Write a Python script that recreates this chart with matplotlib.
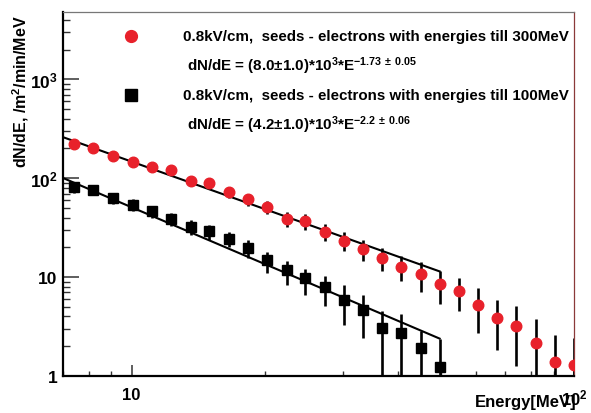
import numpy as np
import matplotlib
matplotlib.use("Agg")
import matplotlib.pyplot as plt
from matplotlib.ticker import LogLocator, NullFormatter, FixedLocator

plt.rcParams['font.family'] = ['Liberation Sans', 'DejaVu Sans']
plt.rcParams['font.weight'] = 'bold'
plt.rcParams['mathtext.default'] = 'regular'

# ---------------- data ----------------
energy = [7.4, 8.2, 9.1, 10.1, 11.1, 12.3, 13.6, 15.0, 16.6, 18.3,
          20.2, 22.4, 24.7, 27.3, 30.2, 33.3, 36.8, 40.7, 45.0, 49.7,
          54.9, 60.7, 67.1, 74.1, 81.9, 90.5, 100.0]

red_y = [223, 201, 169, 147, 129, 121, 94, 90, 72, 61,
         51, 39, 37, 28.6, 23.3, 19.2, 15.5, 12.8, 10.7, 8.5,
         7.2, 5.2, 3.85, 3.17, 2.16, 1.39, 1.28]
red_err = [15, 14, 13, 12, 11, 11, 10, 9.5, 8.5, 8,
           8, 7, 6.7, 5.5, 5.1, 4.5, 4.1, 3.6, 3.6, 3.1,
           2.7, 2.5, 2.0, 1.9, 1.6, 1.2, 1.15]

black_y = [81, 76.7, 63, 54, 46.3, 38.7, 31.9, 29.0, 24.3, 19.5,
           14.9, 11.8, 9.8, 8.0, 5.85, 4.66, 3.09, 2.75, 1.90, 1.22]
black_err_lo = [10, 9.5, 8, 7.5, 6.5, 6, 5.5, 5, 4.2, 4,
                3.9, 3.5, 3.2, 2.95, 2.56, 2.25, 3.0, 2.7, 1.85, 1.2]
black_err_hi = [10, 9.5, 8, 7.5, 6.5, 6, 5.5, 5, 4.2, 4,
                2.9, 2.6, 2.4, 2.2, 2.45, 2.0, 1.5, 1.5, 0.96, 1.17]

# power-law fit lines as drawn: A * E^-gamma, up to E_fit_max
red_fit = (5.8e3, 1.595)
black_fit = (4.12e3, 1.908)
fit_emax = 49.7

legend_1 = "0.8kV/cm,  seeds - electrons with energies till 300MeV"
formula_1 = r"dN/dE = (8.0$\pm$1.0)*10$^{3}$*E$^{-1.73\,\pm\,0.05}$"
legend_2 = "0.8kV/cm,  seeds - electrons with energies till 100MeV"
formula_2 = r"dN/dE = (4.2$\pm$1.0)*10$^{3}$*E$^{-2.2\,\pm\,0.06}$"

xlim = (7, 100)
ylim = (1, 4800)

RED = '#e8212b'

# ---------------- figure ----------------
fig = plt.figure(figsize=(5.91, 4.14), dpi=100)
ax = fig.add_axes([63/591, 1-377/414, (574-63)/591, (377-13)/414])
ax.set_xscale('log')
ax.set_yscale('log')
ax.set_xlim(*xlim)
ax.set_ylim(*ylim)

e = np.array(energy)
nb = len(black_y)

ax.errorbar(e, red_y, yerr=red_err, fmt='o', color=RED, ecolor='black',
            elinewidth=1.9, markersize=7.6, capsize=0, zorder=3)
ax.errorbar(e[:nb], black_y, yerr=[black_err_lo, black_err_hi], fmt='s',
            color='black', ecolor='black', elinewidth=1.9, markersize=7.2,
            capsize=0, zorder=3)

xf = np.geomspace(xlim[0], fit_emax, 100)
for A, g in (red_fit, black_fit):
    ax.plot(xf, A * xf ** (-g), color='black', lw=1.5, zorder=2)

# ---------------- axes styling ----------------
for s in ('left', 'bottom'):
    ax.spines[s].set_linewidth(1.6)
    ax.spines[s].set_color('black')
ax.spines['top'].set_linewidth(0.9)
ax.spines['top'].set_color('#777777')
ax.spines['right'].set_linewidth(0.9)
ax.spines['right'].set_color('#8b3a3a')

ax.xaxis.set_major_locator(FixedLocator([10, 100]))
ax.xaxis.set_minor_locator(LogLocator(base=10, subs=np.arange(2, 10)))
ax.xaxis.set_minor_formatter(NullFormatter())
ax.set_xticklabels(['10', '10$^{2}$'])
ax.yaxis.set_major_locator(FixedLocator([1, 10, 100, 1000]))
ax.yaxis.set_minor_locator(LogLocator(base=10, subs=np.arange(2, 10)))
ax.yaxis.set_minor_formatter(NullFormatter())
ax.set_yticklabels(['1', '10', '10$^{2}$', '10$^{3}$'])

ax.tick_params(axis='y', which='major', direction='in', length=11.5, width=1.1,
               labelsize=12.5, pad=4, color='#333333')
ax.tick_params(axis='y', which='minor', direction='in', length=5, width=1.0,
               color='#333333')
ax.tick_params(axis='x', which='major', direction='in', length=8, width=1.1,
               labelsize=12, pad=8, color='#333333')
ax.tick_params(axis='x', which='minor', direction='in', length=3.6, width=1.0,
               color='#333333')
for lab in ax.get_xticklabels() + ax.get_yticklabels():
    lab.set_fontweight('bold')

ax.set_ylabel(r"dN/dE, /m$^{2}$/min/MeV", fontsize=11.5, fontweight='bold')
ax.yaxis.set_label_coords(-0.062, 0.783)
ax.text((577-63)/511, (377-403)/364, "Energy[MeV]", transform=ax.transAxes,
        ha='right', va='center', fontsize=12, fontweight='bold')

# ---------------- legend block ----------------
ax.plot([(131-63)/511], [(377-37)/364], 'o', color=RED, markersize=8.5,
        transform=ax.transAxes, clip_on=False)
ax.plot([(131-63)/511], [(377-96)/364], 's', color='black', markersize=8,
        transform=ax.transAxes, clip_on=False)
ax.text((183-63)/511, (377-37)/364, legend_1, transform=ax.transAxes,
        ha='left', va='center', fontsize=10.9, fontweight='bold')
ax.text((187-63)/511, (377-66)/364, formula_1, transform=ax.transAxes,
        ha='left', va='center', fontsize=10.9, fontweight='bold')
ax.text((183-63)/511, (377-96)/364, legend_2, transform=ax.transAxes,
        ha='left', va='center', fontsize=10.9, fontweight='bold')
ax.text((187-63)/511, (377-125)/364, formula_2, transform=ax.transAxes,
        ha='left', va='center', fontsize=10.9, fontweight='bold')

fig.savefig("out.png", dpi=100)
